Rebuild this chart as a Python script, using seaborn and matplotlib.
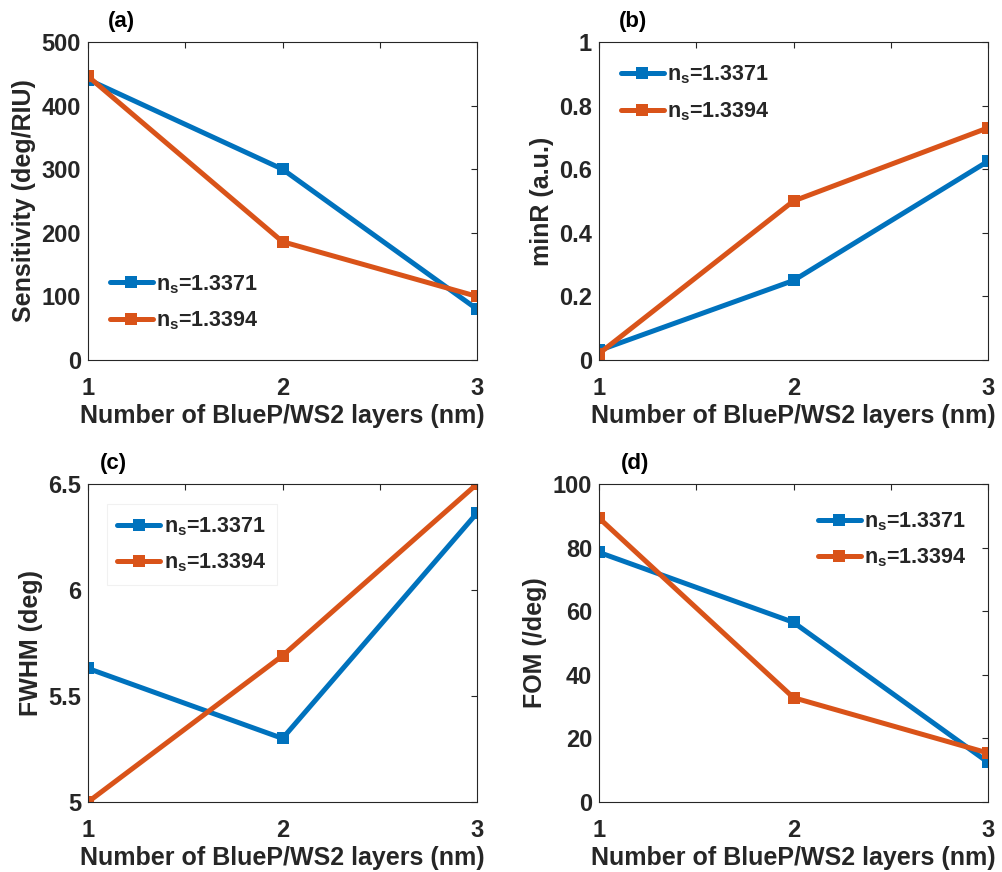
import numpy as np
import pandas as pd
import seaborn as sns
import matplotlib.pyplot as plt

# Data
layers = [1, 2, 3]
labels = ["1.3371", "1.3394"]

sens_1 = [441, 300, 80]
sens_2 = [446, 186, 100]
minr_1 = [0.03, 0.25, 0.625]
minr_2 = [0.02, 0.50, 0.73]
fwhm_1 = [5.63, 5.30, 6.363]
fwhm_2 = [5.00, 5.69, 6.50]
fom_1 = [78.5, 56.5, 12.5]
fom_2 = [89.3, 32.8, 15.4]

sns.set_style("white")
plt.rcParams["font.family"] = ["Liberation Sans", "DejaVu Sans"]
plt.rcParams["font.weight"] = "bold"
plt.rcParams["mathtext.fontset"] = "custom"
plt.rcParams["mathtext.rm"] = "Liberation Sans:bold"
plt.rcParams["mathtext.bf"] = "Liberation Sans:bold"
plt.rcParams["mathtext.it"] = "Liberation Sans:bold"

palette = ["#0072BD", "#D95319"]
dark = "#262626"

def long_df(s1, s2):
    df = pd.DataFrame({"layers": layers * 2,
                       "value": list(s1) + list(s2),
                       "ns": [r"$\mathbf{n_s}$=" + labels[0]] * 3 + [r"$\mathbf{n_s}$=" + labels[1]] * 3})
    return df

fig = plt.figure(figsize=(10.02, 8.72), dpi=100)

W, H = 1002, 872
def box(l, t, r, b):
    return [l / W, (H - b) / H, (r - l) / W, (b - t) / H]

panels = [
    (box(88, 42, 477, 360), sens_1, sens_2, "Sensitivity (deg/RIU)", (0, 500), [0, 100, 200, 300, 400, 500], ["0", "100", "200", "300", "400", "500"], "(a)", 0.087, "lower left", (0.0, 0.02), False),
    (box(599, 42, 988, 360), minr_1, minr_2, "minR (a.u.)", (0, 1), [0, 0.2, 0.4, 0.6, 0.8, 1], ["0", "0.2", "0.4", "0.6", "0.8", "1"], "(b)", 0.087, "upper left", (0.0, 1.0), False),
    (box(88, 484, 477, 802), fwhm_1, fwhm_2, "FWHM (deg)", (5, 6.5), [5, 5.5, 6, 6.5], ["5", "5.5", "6", "6.5"], "(c)", 0.065, "upper left", (0.02, 0.97), True),
    (box(599, 484, 988, 802), fom_1, fom_2, "FOM (/deg)", (0, 100), [0, 20, 40, 60, 80, 100], ["0", "20", "40", "60", "80", "100"], "(d)", 0.093, "upper right", (1.0, 0.985), False),
]

for pos, s1, s2, ylab, ylim, yt, ytl, tag, tagx, loc, anchor, frame in panels:
    ax = fig.add_axes(pos)
    df = long_df(s1, s2)
    sns.lineplot(data=df, x="layers", y="value", hue="ns", palette=palette,
                 marker="s", markersize=8, markeredgewidth=0, linewidth=3.6, ax=ax)
    ax.set_xlim(1, 3)
    ax.set_ylim(*ylim)
    ax.set_xticks([1, 1.5, 2, 2.5, 3])
    ax.set_xticklabels(["1", "", "2", "", "3"])
    ax.set_yticks(yt)
    ax.set_yticklabels(ytl)
    ax.tick_params(direction="in", length=4, width=0.8, colors=dark, labelsize=17,
                   top=True, right=True)
    ax.tick_params(axis="x", pad=12)
    ax.tick_params(axis="y", pad=5)
    for lab in ax.get_xticklabels() + ax.get_yticklabels():
        lab.set_fontweight("bold")
    for sp in ax.spines.values():
        sp.set_color(dark)
        sp.set_linewidth(0.8)
    ax.set_xlabel("Number of BlueP/WS2 layers (nm)", fontsize=18, fontweight="bold",
                  color=dark, labelpad=3)
    ax.set_ylabel(ylab, fontsize=18, fontweight="bold", color=dark, labelpad=4)
    ax.text(tagx, 1.065, tag, transform=ax.transAxes, ha="center", va="center",
            fontsize=16, fontweight="bold", color="black")
    leg = ax.legend(loc=loc, bbox_to_anchor=anchor, fontsize=15.5, handlelength=2.0,
                    handletextpad=0.15, labelspacing=0.65, frameon=True, fancybox=False,
                    borderpad=0.5)
    leg.get_frame().set_edgecolor("#eeeeee" if frame else "white")
    leg.get_frame().set_linewidth(0.8)
    for t in leg.get_texts():
        t.set_fontweight("bold")
        t.set_color(dark)

fig.savefig("out.png", dpi=100)
